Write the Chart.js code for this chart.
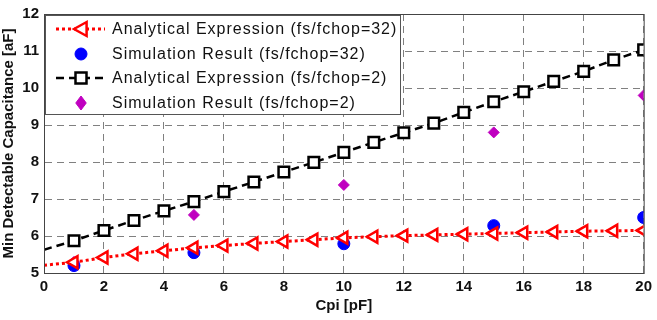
<!DOCTYPE html>
<html>
<head>
<meta charset="utf-8">
<script src="https://cdn.jsdelivr.net/npm/chart.js@4.4.0/dist/chart.umd.min.js"></script>
<style>
  html, body { margin: 0; padding: 0; background: #fff; }
  #wrap { width: 657px; height: 320px; }
</style>
</head>
<body>
<div id="wrap"><canvas id="chart" width="657" height="320"></canvas></div>
<script>
// Data
const cpiAnalytical = [0, 1, 2, 3, 4, 5, 6, 7, 8, 9, 10, 11, 12, 13, 14, 15, 16, 17, 18, 19, 20];
const analytical32 = [5.21, 5.29, 5.42, 5.52, 5.6, 5.68, 5.74, 5.8, 5.85, 5.9, 5.95, 5.98, 6.01, 6.03, 6.05, 6.07, 6.09, 6.11, 6.13, 6.14, 6.15];
const analytical2 = [5.63, 5.87, 6.15, 6.42, 6.68, 6.93, 7.2, 7.46, 7.73, 7.99, 8.26, 8.53, 8.79, 9.05, 9.34, 9.63, 9.9, 10.18, 10.45, 10.76, 11.03];
const cpiSim = [1, 5, 10, 15, 20];
const sim32 = [5.2, 5.55, 5.79, 6.28, 6.5];
const sim2 = [5.3, 6.57, 7.38, 8.8, 9.8];
const legendLabels = [
    'Analytical Expression (fs/fchop=32)',
    'Simulation Result (fs/fchop=32)',
    'Analytical Expression (fs/fchop=2)',
    'Simulation Result (fs/fchop=2)'
];

const toPoints = (xs, ys) => xs.map((x, i) => ({ x: x, y: ys[i] }));
// no marker at Cpi = 0
const markerRadius = (r) => cpiAnalytical.map(x => x === 0 ? 0 : r);

function drawMarker(ctx, style, r, x, y) {
    if (style === 'circle') {
        ctx.arc(x, y, r, 0, Math.PI * 2);
    } else if (style === 'rect') {
        ctx.rect(x - r, y - r, 2 * r, 2 * r);
    } else if (style === 'rectRot') {
        ctx.moveTo(x, y - r); ctx.lineTo(x + r * 0.75, y);
        ctx.lineTo(x, y + r); ctx.lineTo(x - r * 0.75, y); ctx.closePath();
    } else if (style === 'triangle') {
        ctx.moveTo(x - r, y); ctx.lineTo(x + r * 0.8, y - r);
        ctx.lineTo(x + r * 0.8, y + r); ctx.closePath();
    }
}

// Legend drawn inside the plot area, top-left, like the MATLAB one
const boxLegend = {
    id: 'boxLegend',
    afterDatasetsDraw(chart) {
        const ctx = chart.ctx;
        const area = chart.chartArea;
        const left = area.left + 1, top = area.top + 1;
        const w = 355, h = 99;
        ctx.save();
        ctx.fillStyle = '#fff';
        ctx.fillRect(left, top, w, h);
        ctx.strokeStyle = '#555';
        ctx.lineWidth = 1;
        ctx.strokeRect(left + 0.5, top + 0.5, w, h);

        const rows = [14, 39, 63, 88];
        ctx.font = '16px "Liberation Sans", Arial, sans-serif';
        ctx.letterSpacing = '1px';
        ctx.textBaseline = 'middle';
        chart.data.datasets.forEach((ds, i) => {
            const y = top + rows[i];
            const mx = left + 36;
            if (ds.showLine) {
                ctx.strokeStyle = ds.borderColor;
                ctx.lineWidth = ds.borderWidth;
                ctx.setLineDash(ds.borderDash);
                ctx.beginPath();
                ctx.moveTo(left + 11, y);
                ctx.lineTo(left + 60, y);
                ctx.stroke();
                ctx.setLineDash([]);
            }
            ctx.fillStyle = ds.pointBackgroundColor;
            ctx.strokeStyle = ds.pointBorderColor;
            ctx.lineWidth = ds.pointBorderWidth;
            ctx.beginPath();
            drawMarker(ctx, ds.pointStyle, ds.legendRadius, mx, y);
            ctx.fill();
            ctx.stroke();
            ctx.fillStyle = '#111';
            ctx.fillText(legendLabels[i], left + 67, y + 1);
        });
        ctx.restore();
    }
};

const font = { family: '"Liberation Sans", Arial, sans-serif', size: 15, weight: 'bold' };

new Chart(document.getElementById('chart'), {
    type: 'scatter',
    data: {
        datasets: [
            {
                data: toPoints(cpiAnalytical, analytical32),
                showLine: true,
                borderColor: '#ff0000',
                borderWidth: 3,
                borderDash: [3, 3],
                pointStyle: 'triangle',
                pointRotation: -90,
                pointRadius: markerRadius(7),
                legendRadius: 7,
                pointBorderColor: '#ff0000',
                pointBackgroundColor: '#fff',
                pointBorderWidth: 2.5
            },
            {
                data: toPoints(cpiSim, sim32),
                showLine: false,
                pointStyle: 'circle',
                pointRadius: 6,
                legendRadius: 6,
                pointBorderColor: '#0000ff',
                pointBackgroundColor: '#0000ff',
                pointBorderWidth: 1
            },
            {
                data: toPoints(cpiAnalytical, analytical2),
                showLine: true,
                borderColor: '#000',
                borderWidth: 2.5,
                borderDash: [8, 5],
                pointStyle: 'rect',
                pointRadius: markerRadius(7.5),
                legendRadius: 5.5,
                pointBorderColor: '#000',
                pointBackgroundColor: '#fff',
                pointBorderWidth: 2.5
            },
            {
                data: toPoints(cpiSim, sim2),
                showLine: false,
                pointStyle: 'rectRot',
                pointRadius: 5.5,
                legendRadius: 7,
                pointBorderColor: '#c000c0',
                pointBackgroundColor: '#c000c0',
                pointBorderWidth: 1
            }
        ]
    },
    options: {
        responsive: false,
        animation: false,
        events: [],
        layout: { padding: { top: 7, right: 13, left: 0, bottom: 5 } },
        plugins: { legend: { display: false }, tooltip: { enabled: false } },
        scales: {
            x: {
                type: 'linear',
                min: 0, max: 20,
                ticks: { stepSize: 2, color: '#111', font: font, padding: 5 },
                grid: { color: '#808080', lineWidth: 1, drawTicks: false },
                border: { color: '#444', width: 1, dash: [7, 5] },
                title: { display: true, text: 'Cpi [pF]', color: '#111', font: font, padding: { top: 0, bottom: 0 } },
                afterFit(axis) { axis.height = 42; }
            },
            y: {
                min: 5, max: 12,
                ticks: { stepSize: 1, color: '#111', font: font, padding: 5 },
                grid: { color: '#808080', lineWidth: 1, drawTicks: false },
                border: { color: '#444', width: 1, dash: [7, 5] },
                title: { display: true, text: 'Min Detectable Capacitance [aF]', color: '#111', font: { family: font.family, size: 15, weight: 'bold' }, padding: 0 },
                afterFit(axis) { axis.width = 44; }
            }
        }
    },
    plugins: [boxLegend, {
        id: 'frame',
        afterDraw(chart) {
            const a = chart.chartArea;
            const ctx = chart.ctx;
            ctx.save();
            ctx.strokeStyle = '#444';
            ctx.lineWidth = 1;
            ctx.strokeRect(a.left + 0.5, a.top + 0.5, a.right - a.left, a.bottom - a.top);
            ctx.restore();
        }
    }]
});
</script>
</body>
</html>
